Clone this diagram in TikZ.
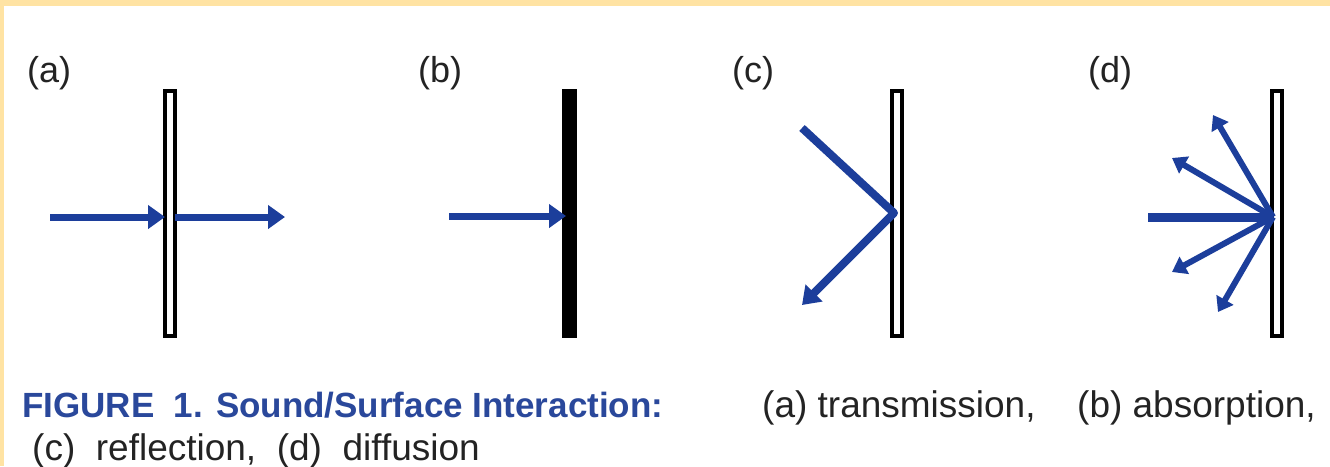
\documentclass[tikz,border=0pt]{standalone}
\usepackage{fontspec}
\setmainfont{Liberation Sans}
\usetikzlibrary{arrows.meta,calc}
\definecolor{peach}{HTML}{FFE3A3}
\definecolor{arrowblue}{RGB}{28,62,155}
\definecolor{capblue}{RGB}{42,72,155}
\definecolor{txtgray}{RGB}{35,35,35}
\begin{document}
\begin{tikzpicture}[x=1pt,y=-1pt,
  wall/.style={draw=black,line width=4pt,fill=white,minimum width=10pt,minimum height=245pt,inner sep=0pt,outer sep=0pt},
  solidwall/.style={fill=black,minimum width=15pt,minimum height=249pt,inner sep=0pt,outer sep=0pt},
  ray/.style={draw=arrowblue,line width=7pt},
  bigtip/.style={-{Triangle[length=17pt,width=23pt]}},
  smalltip/.style={-{Triangle[length=14pt,width=19pt]}},
  lbl/.style={font=\fontsize{36}{40}\selectfont, text=txtgray, anchor=base west, inner sep=0pt},
  captitle/.style={font=\fontsize{35}{40}\selectfont\bfseries, text=capblue, anchor=base west, inner sep=0pt},
]
% background and frame bands
\fill[white] (0,0) rectangle (1330,466);
\fill[peach] (0,0) rectangle (1330,6);
\fill[peach] (0,0) rectangle (4,466);
\useasboundingbox (0,0) rectangle (1330,466);

% panel labels
\node[lbl] (la) at (27,82) {(a)};
\node[lbl] (lb) at (418,82) {(b)};
\node[lbl] (lc) at (732,82) {(c)};
\node[lbl] (ld) at (1088,82) {(d)};

% walls
\node[wall] (wa) at (170,213.5) {};
\node[solidwall] (wb) at (569.5,213.5) {};
\node[wall] (wc) at (897,213) {};
\node[wall] (wd) at (1277,213) {};

% (a) transmission
\coordinate (ain) at (50,217);
\coordinate (aout) at (285,217);
\draw[ray,bigtip] (ain) -- (wa.west |- ain);
\draw[ray,bigtip] (wa.east |- ain) -- (aout);

% (b) absorption
\coordinate (bin) at (449,216);
\draw[ray,bigtip,shorten >=-4pt] (bin) -- (wb.west |- bin);

% (c) reflection
\coordinate (cin) at (802,128);
\coordinate (cout) at (802,305);
\draw[ray,line width=8pt,line join=round,bigtip] (cin) -- ([xshift=2pt]wc.west) -- (cout);

% (d) diffusion
\coordinate (din) at (1148,217);
\coordinate (dp) at ([xshift=1pt]wd.west |- din);
\coordinate (d1) at (1213,115);
\coordinate (d2) at (1172,158);
\coordinate (d3) at (1172,272);
\coordinate (d4) at (1218,312);
\draw[ray,line width=9pt] (din) -- (dp);
\foreach \t in {d1,d2,d3,d4}
  \draw[ray,line width=6pt,smalltip] (dp) -- (\t);

% caption
\node[captitle] (cap) at (22,417) {FIGURE\ \ 1. Sound/Surface Interaction:};
\node[lbl,font=\fontsize{37}{40}\selectfont] (ta) at (762,417) {(a) transmission,};
\node[lbl,font=\fontsize{37}{40}\selectfont] (tb) at (1077,417) {(b) absorption,};
\node[lbl,font=\fontsize{37}{40}\selectfont] (tc) at (32,460) {(c)\ \ reflection,\ \ (d)\ \ diffusion};
\end{tikzpicture}
\end{document}
